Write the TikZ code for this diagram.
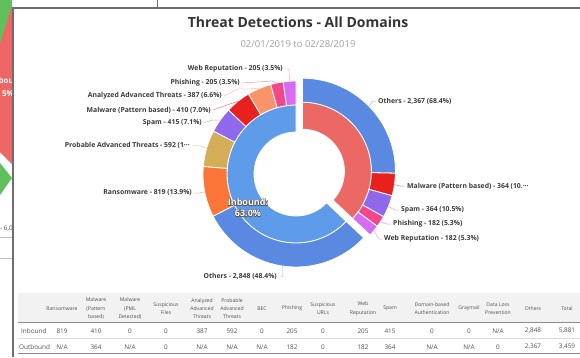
\documentclass[tikz,border=0pt]{standalone}
\usepackage{fontspec}
\setmainfont{Open Sans}
\usetikzlibrary{calc}

\definecolor{inblue}{HTML}{5E9BE8}
\definecolor{othblue}{HTML}{5A89E1}
\definecolor{outred}{HTML}{EC6864}
\definecolor{ransomc}{HTML}{FA7536}
\definecolor{probc}{HTML}{D4AE57}
\definecolor{spamc}{HTML}{8F69EC}
\definecolor{malwc}{HTML}{E8211E}
\definecolor{analyzc}{HTML}{F9946A}
\definecolor{phishc}{HTML}{F4468A}
\definecolor{webrepc}{HTML}{D76BF2}
\definecolor{titlegray}{HTML}{333333}
\definecolor{subgray}{HTML}{A0A0A0}
\definecolor{labgray}{HTML}{3A3A3A}
\definecolor{tabgray}{HTML}{505050}
\definecolor{bandgray}{HTML}{F2F2F2}
\definecolor{framegray}{HTML}{6E6E6E}
\definecolor{sidegreen}{HTML}{5FC05C}
\definecolor{sidered}{HTML}{EE6666}

% annular sector: inner radius, outer radius, start, end (degrees clockwise from 12 o'clock), fill
\newcommand{\ringsec}[5]{%
  \fill[#5, draw=white, line width=0.8]
    ({#3-90}:#2) arc[start angle={#3-90}, end angle={#4-90}, radius=#2]
    -- ({#4-90}:#1) arc[start angle={#4-90}, end angle={#3-90}, radius=#1] -- cycle;}

% white text with a dark outline
\newcommand{\haloed}[4]{%
  \foreach \hx/\hy in {-0.5/0,0.5/0,0/-0.5,0/0.5,-0.4/-0.4,0.4/0.4,-0.4/0.4,0.4/-0.4}
    \node[ctrlab, text=black!65] at ($(#2)+(\hx,\hy)$) {#3};
  \node[ctrlab, text=white] (#1) at (#2) {#3};}

\begin{document}
\begin{tikzpicture}[x=1pt, y=-1pt,
  title/.style={font=\fontsize{14}{16}\selectfont\bfseries, text=titlegray, inner sep=0},
  subtitle/.style={font=\fontsize{9.5}{11}\selectfont, text=subgray, inner sep=0},
  slicelab/.style={font=\fontsize{6.85}{8}\selectfont\bfseries, text=labgray, inner sep=0},
  ctrlab/.style={font=\fontsize{9}{11}\selectfont\bfseries, align=center, inner sep=0},
  conn/.style={line width=0.5, opacity=0.6},
  thead/.style={font=\fontsize{5.1}{8.4}\selectfont, text=tabgray, align=center, inner sep=0},
  tval/.style={font=\fontsize{6.4}{7}\selectfont, text=tabgray, inner sep=0},
]
\useasboundingbox (0,0) rectangle (580,357);

% ---- neighbouring panel peeking out on the left ----
\begin{scope}
  \clip (0,0) rectangle (12,357);
  \fill[sidegreen] (0,0) rectangle (12,50);
  \fill[sidered] (12,6) -- (0,44) -- (0,152) -- (12,164) -- cycle;
  \fill[sidegreen] (0,163) -- (12,178) -- (0,195) -- cycle;
  \node[font=\fontsize{8}{9}\selectfont\bfseries, text=white, anchor=east, inner sep=0] (sidein) at (14,80) {Inbou};
  \node[font=\fontsize{8}{9}\selectfont\bfseries, text=white, anchor=east, inner sep=0] (sidepc) at (14,94) {5\%};
  \node[font=\fontsize{6.4}{7}\selectfont, text=tabgray, anchor=west, inner sep=0] (sideval) at (0,229) {- 6,0};
  \draw[black!25, line width=0.6] (0,237) -- (12,237);
  \draw[black!25, line width=0.6] (0,258) -- (12,258);
\end{scope}

% ---- panel frame ----
\draw[framegray, line width=1.8] (13,8) -- (580,8);
\draw[framegray, line width=1.8] (13,7.1) -- (13,357);
\draw[framegray, line width=0.9] (157,0) -- (157,7.5);

% ---- titles ----
\node[title] (title) at (298,22) {Threat Detections - All Domains};
\node[subtitle] (subtitle) at (298,44) {02/01/2019 to 02/28/2019};

% ---- inbound half of the donut ----
\begin{scope}[shift={(296,174)}]
  \ringsec{42}{69}{133.32}{360}{inblue}
  \ringsec{69}{93}{133.32}{243.09}{othblue}
  \ringsec{69}{93}{243.09}{274.66}{ransomc}
  \ringsec{69}{93}{274.66}{297.48}{probc}
  \ringsec{69}{93}{297.48}{313.48}{spamc}
  \ringsec{69}{93}{313.48}{329.28}{malwc}
  \ringsec{69}{93}{329.28}{344.20}{analyzc}
  \ringsec{69}{93}{344.20}{352.10}{phishc}
  \ringsec{69}{93}{352.10}{360.00}{webrepc}
  \coordinate (pi-oth) at (188.2-90:93);
  \coordinate (pi-ran) at (258.9-90:93);
  \coordinate (pi-pro) at (286.1-90:93);
  \coordinate (pi-spa) at (305.5-90:93);
  \coordinate (pi-mal) at (321.4-90:93);
  \coordinate (pi-ana) at (336.7-90:93);
  \coordinate (pi-phi) at (348.1-90:93);
  \coordinate (pi-web) at (356.0-90:93);
\end{scope}

% ---- outbound half, pulled out from the centre ----
\begin{scope}[shift={(296,174)}, shift={(-23.34:7)}]
  \ringsec{42}{69}{0}{133.32}{outred}
  \ringsec{69}{93}{0}{91.23}{othblue}
  \ringsec{69}{93}{91.23}{105.26}{malwc}
  \ringsec{69}{93}{105.26}{119.29}{spamc}
  \ringsec{69}{93}{119.29}{126.31}{phishc}
  \ringsec{69}{93}{126.31}{133.32}{webrepc}
  \coordinate (po-oth) at (45.6-90:93);
  \coordinate (po-mal) at (98.2-90:93);
  \coordinate (po-spa) at (112.3-90:93);
  \coordinate (po-phi) at (122.8-90:93);
  \coordinate (po-web) at (129.8-90:93);
\end{scope}

% ---- slice labels, inbound ----
\node[slicelab, anchor=east] (li-web) at (283,69) {Web Reputation - 205 (3.5\%)};
\node[slicelab, anchor=east] (li-phi) at (240,83) {Phishing - 205 (3.5\%)};
\node[slicelab, anchor=east] (li-ana) at (222,96) {Analyzed Advanced Threats - 387 (6.6\%)};
\node[slicelab, anchor=east] (li-mal) at (211,110) {Malware (Pattern based) - 410 (7.0\%)};
\node[slicelab, anchor=east] (li-spa) at (202,123) {Spam - 415 (7.1\%)};
\node[slicelab, anchor=east] (li-pro) at (190,145) {Probable Advanced Threats - 592 (1\textperiodcentered\textperiodcentered\textperiodcentered};
\node[slicelab, anchor=east] (li-ran) at (192,193) {Ransomware - 819 (13.9\%)};
\node[slicelab, anchor=east] (li-oth) at (277,276) {Others - 2,848 (48.4\%)};

\draw[conn, webrepc] (li-web.east) ++(2,0) -- ++(4,0) -- (pi-web);
\draw[conn, phishc] ([xshift=2]li-phi.east) -- ++(30,-2) -- (pi-phi);
\draw[conn, analyzc] ([xshift=2]li-ana.east) -- ++(14,-7) -- (pi-ana);
\draw[conn, malwc] ([xshift=2]li-mal.east) -- ++(14,-5) -- (pi-mal);
\draw[conn, spamc] ([xshift=2]li-spa.east) -- ++(8,-3) -- (pi-spa);
\draw[conn, probc] ([xshift=2]li-pro.east) -- ++(8,1) -- (pi-pro);
\draw[conn, ransomc] ([xshift=2]li-ran.east) -- ++(5,0) -- (pi-ran);
\draw[conn, othblue] ([xshift=3]li-oth.east) -- ++(3,0) -- (pi-oth);

% ---- slice labels, outbound ----
\node[slicelab, anchor=west] (lo-oth) at (378,101) {Others - 2,367 (68.4\%)};
\node[slicelab, anchor=west] (lo-mal) at (407,186) {Malware (Pattern based) - 364 (10.\textperiodcentered\textperiodcentered\textperiodcentered};
\node[slicelab, anchor=west] (lo-spa) at (401,210) {Spam - 364 (10.5\%)};
\node[slicelab, anchor=west] (lo-phi) at (393,224) {Phishing - 182 (5.3\%)};
\node[slicelab, anchor=west] (lo-web) at (384,239) {Web Reputation - 182 (5.3\%)};

\draw[conn, othblue] ([xshift=-2]lo-oth.west) -- ++(-3,0) -- (po-oth);
\draw[conn, malwc] ([xshift=-2]lo-mal.west) -- ++(-5,0) -- (po-mal);
\draw[conn, spamc] ([xshift=-2]lo-spa.west) -- ++(-4,0) -- (po-spa);
\draw[conn, phishc] ([xshift=-2]lo-phi.west) -- ++(-4,0) -- (po-phi);
\draw[conn, webrepc] ([xshift=-2]lo-web.west) -- ++(-3,0) -- (po-web);

% ---- centre labels ----
\haloed{cl-in}{248,208}{Inbound:\\63.0\%}
\haloed{cl-out}{345,165.5}{Outbound:\\37.0\%}

% ---- summary table ----
\fill[bandgray] (18,293) rectangle (580,322);
\draw[black!45, line width=0.9] (18,322) -- (580,322);
\draw[black!15, line width=0.6] (18,338.5) -- (580,338.5);
\draw[black!45, line width=1.1] (18,353.5) -- (580,353.5);

\foreach \cx/\txt [count=\i] in {
  62/Ransomware,
  96/Malware\\(Pattern\\based),
  130/Malware\\(PML\\Detected),
  166/Suspicious\\Files,
  202/Analyzed\\Advanced\\Threats,
  232/Probable\\Advanced\\Threats,
  262/BEC,
  292/Phishing,
  323/Suspicious\\URLs,
  363/Web\\Reputation,
  390/Spam,
  432/Domain-based\\Authentication,
  469/Graymail,
  498/Data Loss\\Prevention,
  533/Others,
  567/Total}
  \node[thead] (th\i) at (\cx,308.5) {\txt};

\node[tval, anchor=west] (rin) at (21,331) {Inbound};
\node[tval, anchor=west] (rout) at (19,347) {Outbound};

\foreach \cx/\a/\b [count=\i] in {
  62/819/N\slash A, 96/410/364, 130/0/N\slash A, 166/0/0, 202/387/N\slash A,
  232/592/N\slash A, 262/0/N\slash A, 292/205/182, 323/0/0, 363/205/182,
  390/415/364, 432/0/N\slash A, 469/0/N\slash A, 498/N\slash A/0,
  533/{2,848}/{2,367}, 567/{5,881}/{3,459}}
{
  \node[tval] (vi\i) at (\cx,331) {\a};
  \node[tval] (vo\i) at (\cx,347) {\b};
}
\end{tikzpicture}
\end{document}
